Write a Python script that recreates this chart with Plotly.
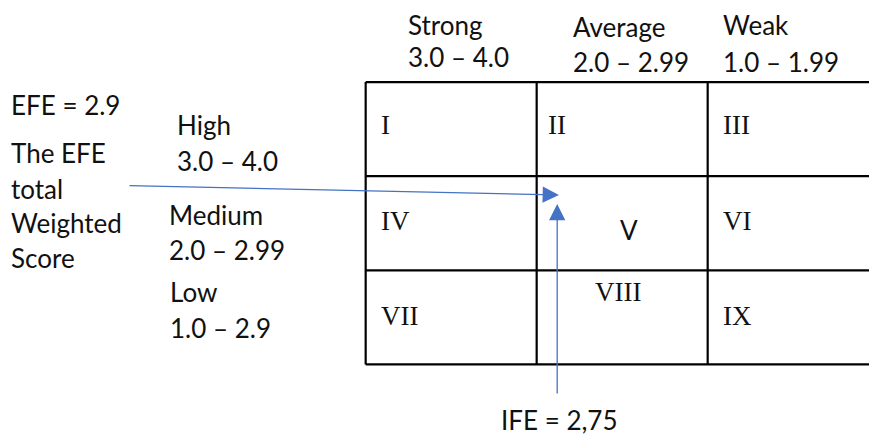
import plotly.graph_objects as go

W, H = 869, 437

# ---------------- data ----------------
col_labels = ["Strong", "Average", "Weak"]
col_ranges = ["3.0 – 4.0", "2.0 – 2.99", "1.0 – 1.99"]
row_labels = ["High", "Medium", "Low"]
row_ranges = ["3.0 – 4.0", "2.0 – 2.99", "1.0 – 2.9"]
cell_labels = ["I", "II", "III", "IV", "V", "VI", "VII", "VIII", "IX"]
ife_edges = [4.0, 3.0, 2.0, 1.0]   # IFE total weighted score (x), strong -> weak
efe_edges = [4.0, 3.0, 2.0, 1.0]   # EFE total weighted score (y), high -> low
efe_score_text = "EFE = 2.9"
ife_score_text = "IFE = 2,75"
efe_note = ["The EFE", "total", "Weighted", "Score"]
# arrow end points (score units)
efe_arrow_tail = (5.39, 2.90)
efe_arrow_tip = (2.87, 2.80)
ife_arrow_tail = (2.88, 0.675)
ife_arrow_tip = (2.88, 2.705)

# ---------------- styling ----------------
SANS = "Lato"
SERIF = "Liberation Serif"
FS = 26
BLUE = "#4472C4"
INK = "#111111"

fig = go.Figure()
fig.add_trace(go.Scatter(x=[None], y=[None], showlegend=False, hoverinfo="skip"))

# grid lines
for e in efe_edges:
    fig.add_shape(type="line", xref="x", yref="y", x0=ife_edges[0], x1=ife_edges[-1],
                  y0=e, y1=e, line=dict(color="black", width=2.2))
for e in ife_edges:
    fig.add_shape(type="line", xref="x", yref="y", x0=e, x1=e,
                  y0=efe_edges[0], y1=efe_edges[-1], line=dict(color="black", width=2.2))

# roman numerals in cells
for i, lab in enumerate(cell_labels):
    r, c = divmod(i, 3)
    xl = ife_edges[c]
    xc = (ife_edges[c] + ife_edges[c + 1]) / 2
    yc = (efe_edges[r] + efe_edges[r + 1]) / 2
    if lab == "V":
        fig.add_annotation(x=xc, y=yc, xref="x", yref="y", text=lab, showarrow=False,
                           xanchor="center", yanchor="middle", xshift=7, yshift=-7,
                           font=dict(family=SANS, size=FS, color=INK), borderpad=0, borderwidth=0)
    elif lab == "VIII":
        fig.add_annotation(x=xc, y=yc, xref="x", yref="y", text=lab, showarrow=False,
                           xanchor="center", yanchor="middle", xshift=-4, yshift=25,
                           font=dict(family=SERIF, size=27, color=INK), borderpad=0, borderwidth=0)
    else:
        fig.add_annotation(x=xl, y=yc, xref="x", yref="y", text=lab, showarrow=False,
                           xanchor="left", yanchor="middle", xshift=(11 if c == 1 else 15),
                           yshift=[4, 2, 1][r],
                           font=dict(family=SERIF, size=27, color=INK), borderpad=0, borderwidth=0)


def label(text, px, baseline, size=FS):
    fig.add_annotation(x=(px - 1.5) / W, y=1 - (baseline - 0.387 * size) / H,
                       xref="paper", yref="paper", text=text, showarrow=False,
                       xanchor="left", yanchor="middle", borderpad=0, borderwidth=0,
                       font=dict(family=SANS, size=size, color=INK))


# column headers
col_pos = [(409, 35, 67), (574, 37, 72), (724, 35, 72)]
for (px, b1, b2), t1, t2 in zip(col_pos, col_labels, col_ranges):
    label(t1, px, b1)
    label(t2, px, b2)

# row headers
row_pos = [(178, 135, 171), (170, 225, 260), (171, 302, 338)]
for (px, b1, b2), t1, t2 in zip(row_pos, row_labels, row_ranges):
    label(t1, px, b1)
    label(t2, px, b2)

# EFE notes
label(efe_score_text, 12, 115)
for t, b in zip(efe_note, [163, 199, 233, 268]):
    label(t, 12, b)
label(ife_score_text, 502, 430)

# arrows
for tail, tip in [(efe_arrow_tail, efe_arrow_tip), (ife_arrow_tail, ife_arrow_tip)]:
    fig.add_annotation(x=tip[0], y=tip[1], ax=tail[0], ay=tail[1], xref="x", yref="y",
                       axref="x", ayref="y", text="", showarrow=True, arrowhead=2,
                       arrowwidth=1.3, arrowsize=2.5, arrowcolor=BLUE, standoff=0)

fig.update_layout(
    width=W, height=H, margin=dict(l=0, r=0, t=0, b=0),
    paper_bgcolor="white", plot_bgcolor="white", showlegend=False,
    xaxis=dict(range=[6.1384, 1.0566], visible=False, fixedrange=True),
    yaxis=dict(range=[0.2285, 4.8725], visible=False, fixedrange=True),
)

fig.write_html(
    "out.html",
    config={"displayModeBar": False},
    post_script="document.body.style.margin='0';document.body.style.overflow='hidden';",
)
